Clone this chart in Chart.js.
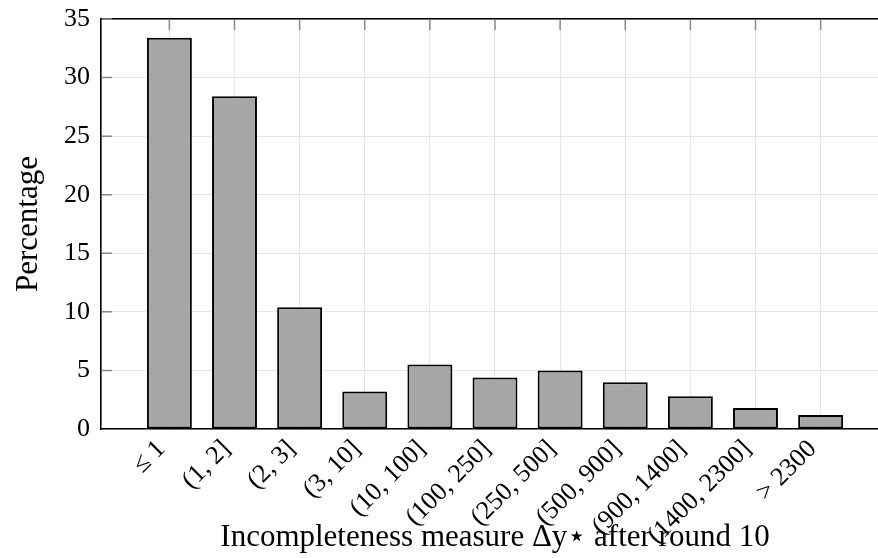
<!DOCTYPE html>
<html>
<head>
<meta charset="utf-8">
<script src="https://cdn.jsdelivr.net/npm/chart.js@4.4.0/dist/chart.umd.min.js"></script>
<style>
  html, body { margin: 0; padding: 0; background: #fff; overflow: hidden; }
  #wrap { width: 892px; height: 558px; }
</style>
</head>
<body>
<div id="wrap"><canvas id="myChart" width="892" height="558"></canvas></div>
<script>
// chart data
const categories = ['≤ 1', '(1, 2]', '(2, 3]', '(3, 10]', '(10, 100]', '(100, 250]',
                    '(250, 500]', '(500, 900]', '(900, 1400]', '(1400, 2300]', '> 2300'];
const percentages = [33.4, 28.4, 10.4, 3.2, 5.5, 4.4, 5.0, 4.0, 2.8, 1.8, 1.2];
const yTicks = [0, 5, 10, 15, 20, 25, 30, 35];
const xTitle = 'Incompleteness measure Δy⋆ after round 10';
const yTitle = 'Percentage';

const serif = "'Liberation Serif', 'DejaVu Serif', serif";

// small inward tick marks on the top and left axis lines
const innerTicks = {
  id: 'innerTicks',
  afterDraw(chart) {
    const { ctx, chartArea, scales } = chart;
    ctx.save();
    ctx.strokeStyle = '#8a8a8a';
    ctx.lineWidth = 1.5;
    ctx.beginPath();
    scales.x.ticks.forEach(t => {
      const x = scales.x.getPixelForValue(t.value);
      ctx.moveTo(x, chartArea.top + 1);
      ctx.lineTo(x, chartArea.top + 11);
    });
    scales.y.ticks.forEach(t => {
      if (t.value === 0) return;
      const y = scales.y.getPixelForValue(t.value);
      ctx.moveTo(chartArea.left + 1, y);
      ctx.lineTo(chartArea.left + 11, y);
    });
    ctx.stroke();
    ctx.restore();
  }
};

const ctx = document.getElementById('myChart').getContext('2d');
const chart = new Chart(ctx, {
  type: 'bar',
  data: {
    datasets: [{
      label: yTitle,
      data: percentages.map((v, i) => ({ x: i, y: v })),
      backgroundColor: '#a6a6a6',
      borderColor: '#000',
      borderWidth: 2,
      borderSkipped: false,
      barPercentage: 0.69,
      categoryPercentage: 1
    }]
  },
  options: {
    responsive: false,
    animation: false,
    layout: { padding: { left: 0, top: 19, right: 3, bottom: 0 } },
    plugins: { legend: { display: false }, tooltip: { enabled: false } },
    scales: {
      x: {
        type: 'linear',
        offset: false,
        min: -1.05,
        max: categories.length - 1 + 1.05,
        afterBuildTicks: s => { s.ticks = categories.map((_, i) => ({ value: i })); },
        afterFit: s => { s.height = 129; },
        grid: { color: '#e6e6e6', lineWidth: 1, drawTicks: false, offset: false },
        border: { color: '#000', width: 1.6 },
        ticks: {
          autoSkip: false,
          minRotation: 45,
          maxRotation: 45,
          padding: 5,
          labelOffset: -8,
          color: '#000',
          font: { family: serif, size: 26 },
          callback: v => categories[v]
        },
        title: {
          display: true,
          text: xTitle,
          color: '#000',
          font: { family: serif, size: 31 },
          padding: { top: 0, bottom: 2 }
        }
      },
      x2: {
        type: 'linear',
        position: 'top',
        offset: false,
        min: -1.05,
        max: categories.length - 1 + 1.05,
        afterFit: s => { s.height = 0; },
        grid: { display: false },
        border: { color: '#000', width: 1.6 },
        ticks: { display: false }
      },
      y: {
        min: 0,
        max: 35,
        afterBuildTicks: s => { s.ticks = yTicks.map(v => ({ value: v })); },
        afterFit: s => { s.width = 101; },
        grid: { color: '#e6e6e6', lineWidth: 1, drawTicks: true, tickLength: 11, tickColor: 'rgba(0,0,0,0)' },
        border: { color: '#000', width: 1.6 },
        ticks: {
          padding: 0,
          color: '#000',
          font: { family: serif, size: 26 }
        },
        title: {
          display: true,
          text: yTitle,
          color: '#000',
          font: { family: serif, size: 31 },
          padding: { top: 10, bottom: 0 }
        }
      },
      y2: {
        position: 'right',
        min: 0,
        max: 35,
        afterFit: s => { s.width = 0; },
        grid: { display: false },
        border: { color: '#000', width: 1.6 },
        ticks: { display: false }
      }
    }
  },
  plugins: [innerTicks]
});
</script>
</body>
</html>
